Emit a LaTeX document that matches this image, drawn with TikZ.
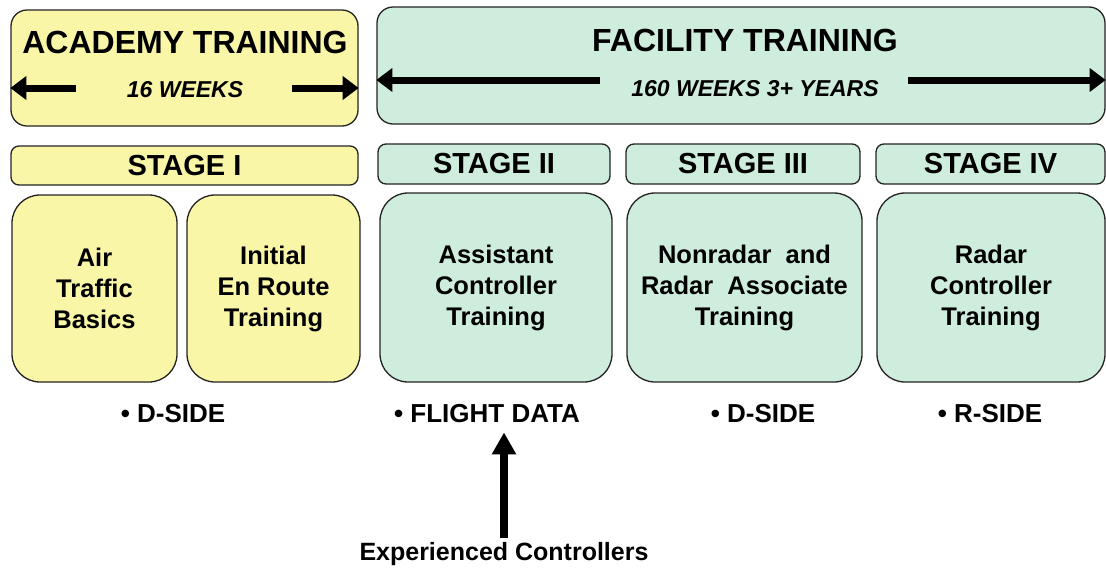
\documentclass[tikz,border=0pt]{standalone}
\usepackage{fontspec}
\setmainfont{Liberation Sans}
\usetikzlibrary{arrows.meta}

\definecolor{acadyellow}{RGB}{250,246,168}
\definecolor{facgreen}{RGB}{207,237,220}
\definecolor{edgegray}{RGB}{35,35,35}

\newcommand{\bigfont}{\fontsize{32}{36}\selectfont\bfseries}
\newcommand{\weekfont}{\fontsize{23}{26}\selectfont\bfseries\itshape}
\newcommand{\stagefont}{\fontsize{29}{32}\selectfont\bfseries}
\newcommand{\coursefont}{\fontsize{25.5}{31}\selectfont\bfseries}
\newcommand{\notefont}{\fontsize{26}{30}\selectfont\bfseries}

\begin{document}
\begin{tikzpicture}[x=1pt, y=-1pt,
    box/.style={draw=edgegray, line width=1.3pt, inner sep=0pt},
    titlebox/.style={box, rounded corners=16pt},
    stagebox/.style={box, rounded corners=8pt, font=\stagefont},
    coursebox/.style={box, rounded corners=28pt, align=center, font=\coursefont},
    note/.style={inner sep=0pt, font=\notefont},
    fatarrow/.style={line width=7pt, -{Triangle[length=16pt, width=23pt]}}]
    \useasboundingbox (0,0) rectangle (1106,571);

    % Title boxes
    \node[titlebox, fill=acadyellow, minimum width=347pt, minimum height=116pt] (academy) at (184.5,68) {};
    \node[titlebox, fill=facgreen, minimum width=728pt, minimum height=117pt] (facility) at (741,65.5) {};

    \node[font=\bigfont, inner sep=0pt] (acadtitle) at (185,42) {ACADEMY TRAINING};
    \node[font=\weekfont, inner sep=0pt] (acadweeks) at (185,90) {16 WEEKS};
    \node[font=\bigfont, inner sep=0pt] (factitle) at (745,40) {FACILITY TRAINING};
    \node[font=\weekfont, inner sep=0pt] (facweeks) at (755,89) {160 WEEKS 3+ YEARS};

    % Duration arrows
    \coordinate (acadL) at (76,88);
    \coordinate (acadR) at (292,88);
    \coordinate (facL) at (600,80);
    \coordinate (facR) at (908,80);
    \draw[fatarrow] (acadL) -- (acadL -| academy.west);
    \draw[fatarrow] (acadR) -- (acadR -| academy.east);
    \draw[fatarrow] (facL) -- (facL -| facility.west);
    \draw[fatarrow] (facR) -- (facR -| facility.east);

    % Stages
    \node[stagebox, fill=acadyellow, minimum width=347pt, minimum height=39pt] (stage1) at (184.5,165.5) {STAGE I};
    \node[stagebox, fill=facgreen, minimum width=232pt, minimum height=40pt] (stage2) at (494,164) {STAGE II};
    \node[stagebox, fill=facgreen, minimum width=234pt, minimum height=40pt] (stage3) at (743,164) {STAGE III};
    \node[stagebox, fill=facgreen, minimum width=229pt, minimum height=40pt] (stage4) at (990.5,164) {STAGE IV};

    % Courses
    \node[coursebox, fill=acadyellow, minimum width=165pt, minimum height=187pt] (basics) at (94.5,288.5) {Air\\Traffic\\Basics};
    \node[coursebox, fill=acadyellow, minimum width=173pt, minimum height=187pt] (enroute) at (273.5,288.5) {Initial\\En Route\\Training};
    \node[coursebox, fill=facgreen, minimum width=232pt, minimum height=189pt] (assistant) at (496,287.5) {Assistant\\Controller\\Training};
    \node[coursebox, fill=facgreen, minimum width=235pt, minimum height=189pt] (associate) at (744.5,287.5) {Nonradar\ \ and\\Radar\ \ Associate\\Training};
    \node[coursebox, fill=facgreen, minimum width=228pt, minimum height=189pt] (radar) at (991,287.5) {Radar\\Controller\\Training};

    % Positions
    \node[note] (dside1) at (173,414) {\textbullet\ D-SIDE};
    \node[note] (fdata) at (487,414) {\textbullet\ FLIGHT DATA};
    \node[note] (dside2) at (763,414) {\textbullet\ D-SIDE};
    \node[note] (rside) at (990,414) {\textbullet\ R-SIDE};

    % Entry of experienced controllers
    \node[note, font=\fontsize{25}{30}\selectfont\bfseries] (exp) at (504,554) {Experienced Controllers};
    \draw[line width=8pt, -{Triangle[length=22pt, width=23pt]}, shorten >=9pt]
        (exp.north) ++(0,-4) -- (exp.north |- fdata.south);
\end{tikzpicture}
\end{document}
